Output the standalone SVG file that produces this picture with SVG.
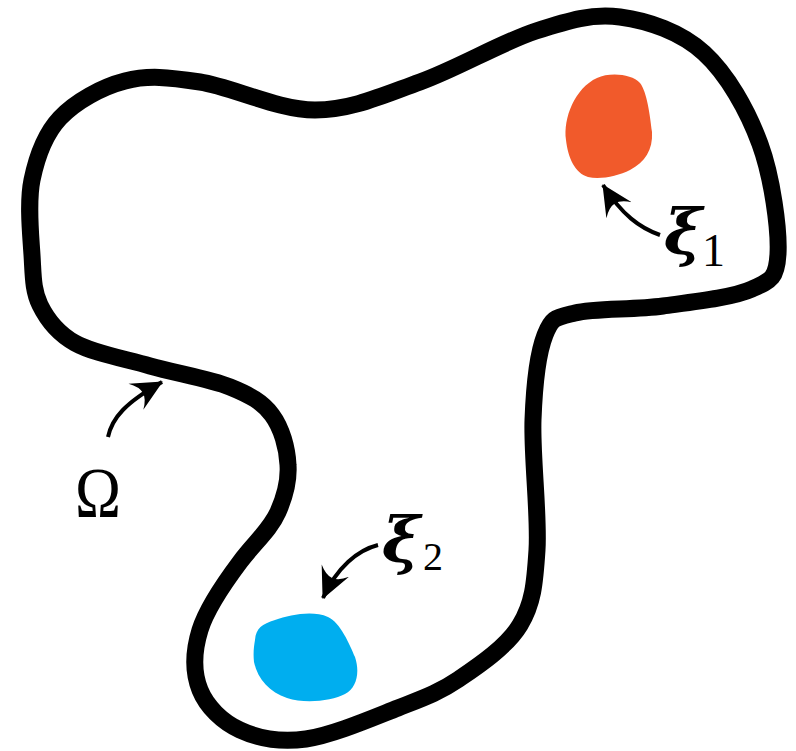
<svg xmlns="http://www.w3.org/2000/svg" width="796" height="751" viewBox="0 0 796 751">
<style>
.outline{fill:none;stroke:#000;stroke-width:17;stroke-linejoin:round}
.arrow{fill:none;stroke:#000;stroke-width:4;marker-end:url(#head)}
.lbl{font-family:"Liberation Serif","DejaVu Serif",serif;fill:#000}
.xi{font-family:"DejaVu Serif","Liberation Serif",serif;font-weight:bold;font-style:italic;font-size:64px}
</style>
<defs>
<marker id="head" markerUnits="userSpaceOnUse" markerWidth="32" markerHeight="32" viewBox="0 0 32 32" refX="30" refY="16" orient="auto">
<path d="M31,16 L0,1 Q8,9 8,16 Q8,23 0,31 Z" fill="#000"/>
</marker>
</defs>
<rect width="796" height="751" fill="#fff"/>
<g id="domain">
<path class="outline" d="M32,255 C30.7,234.2 27.3,202.8 32,180 C36.7,157.2 44.5,134.5 60,118 C75.5,101.5 101.7,87 125,81 C148.3,75 168.3,77.2 200,82 C231.7,86.8 278.3,110 315,110 C351.7,110 383.2,95.2 420,82 C456.8,68.8 502.7,41.8 536,31 C569.3,20.2 592,13.3 620,17 C648,20.7 680.7,31.8 704,53 C727.3,74.2 747.7,110.5 760,144 C772.3,177.5 779.3,229.8 778,254 C776.7,278.2 771.2,280.3 752,289 C732.8,297.7 692.5,302 663,306 C633.5,310 594.7,308.2 575,313 C555.3,317.8 552,317.2 545,335 C538,352.8 534.3,384.2 533,420 C531.7,455.8 539.2,515.8 537,550 C534.8,584.2 533,603.5 520,625 C507,646.5 479.3,665.2 459,679 C438.7,692.8 423.5,698 398,708 C372.5,718 332.3,735.3 306,739 C279.7,742.7 257.7,738.2 240,730 C222.3,721.8 206.7,706.7 200,690 C193.3,673.3 193.3,651.7 200,630 C206.7,608.3 225,582 240,562 C255,542 270,530 278,512 C286,494 289,480 288,465 C287.3,448.3 281.7,428 272,415 C262.3,402 250.3,395.2 230,387 C209.7,378.8 175.8,373.3 150,366 C124.2,358.7 93.3,353.2 75,343 C56.7,332.8 47.2,319.7 40,305 C32.8,290.3 33.3,275.8 32,255 Z"/>
</g>
<g id="xi1-region">
<path fill="#F15A2B" d="M566,140 C563,118 575,88 597,78 C610,72 632,74 640,83 C647,92 650,115 652,132 C653,150 645,162 630,170 C618,176 600,180 588,177 C575,173 568,158 566,140 Z"/>
</g>
<g id="xi2-region">
<path fill="#00AEEF" d="M255,640 C256,628 262,624 275,620 C290,615 312,610 328,617 C340,622 350,645 355,657 C360,672 357,688 345,694 C332,701 305,704 287,698 C270,692 258,680 254,662 C253,653 254,646 255,640 Z"/>
</g>
<g id="connectors">
<path class="arrow" d="M108,437 C112,418 125,403 162,382"/>
<path class="arrow" d="M660,235 C640,228 622,215 603,185"/>
<path class="arrow" d="M378,545 C358,550 337,567 323,598"/>
</g>
<g id="label-omega">
<text class="lbl" x="75" y="517" font-size="72" textLength="46" lengthAdjust="spacingAndGlyphs">Ω</text>
</g>
<g id="label-xi1">
<text class="xi" x="664" y="254">ξ</text>
<text class="lbl" x="702" y="266" font-size="46">1</text>
</g>
<g id="label-xi2">
<text class="xi" x="382" y="562">ξ</text>
<text class="lbl" x="423" y="570" font-size="40">2</text>
</g>
</svg>
